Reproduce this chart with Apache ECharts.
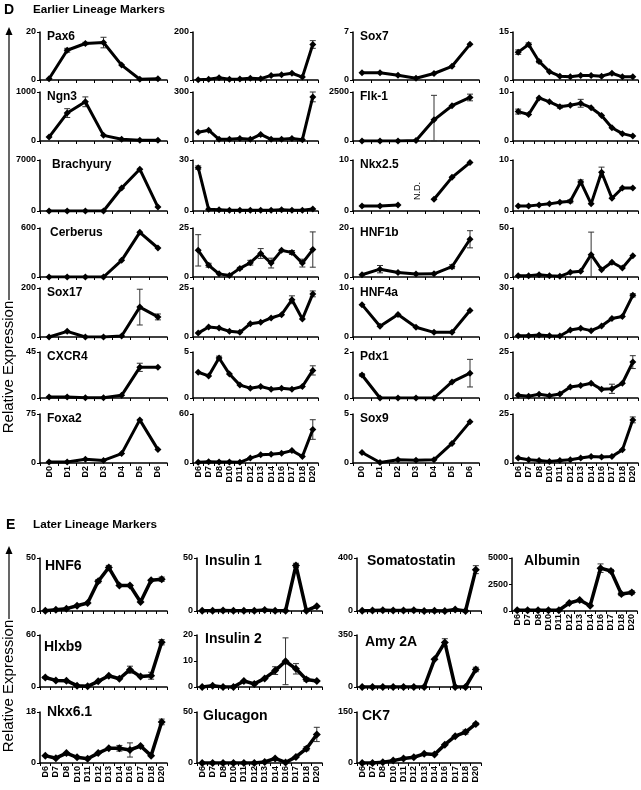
<!DOCTYPE html>
<html><head><meta charset="utf-8">
<script src="https://cdn.jsdelivr.net/npm/echarts@6/dist/echarts.min.js"></script>
<style>html,body{margin:0;padding:0;background:#fff}#c{width:641px;height:790px}</style>
</head><body><div id="c"></div>
<script>
const F = "'Liberation Sans', Arial, sans-serif";
const earlyDays = ['D0','D1','D2','D3','D4','D5','D6'];
const lateDays = ['D6','D7','D8','D10','D11','D12','D13','D14','D16','D17','D18','D20'];

// ---- Panel D: Earlier lineage markers ----
const pax6Early = [0.5, 12.4, 15.2, 15.6, 6.2, 0.3, 0.5];
const pax6EarlyErr = [0, 0.8, 0.5, 2.2, 0, 0, 0];
const pax6Late = [1, 3, 9, 3, 4, 7, 5, 19, 22, 28, 12, 148];
const pax6LateErr = [0, 0, 0, 0, 0, 0, 0, 0, 0, 0, 0, 16];
const sox7Early = [1.05, 1.05, 0.7, 0.25, 0.95, 2.0, 5.2];
const sox7Late = [8.7, 11.1, 5.8, 2.6, 1.2, 1.0, 1.4, 1.4, 1.2, 2.1, 1.0, 1.0];
const sox7LateErr = [0.7, 0.5, 0.4, 0, 0, 0, 0, 0, 0, 0, 0, 0];

const ngn3Early = [80, 570, 800, 115, 35, 15, 15];
const ngn3EarlyErr = [0, 90, 100, 0, 0, 0, 0];
const ngn3Late = [54, 66, 10, 10, 16, 10, 40, 10, 10, 16, 8, 270];
const ngn3LateErr = [0, 0, 0, 0, 0, 0, 0, 0, 0, 0, 0, 30];
const flk1Early = [0, 0, 0, 30, 1080, 1800, 2220];
const flk1EarlyErr = [0, 0, 0, 0, 1250, 0, 170];
const flk1Late = [6.0, 5.4, 8.8, 8.0, 7.0, 7.3, 7.7, 6.8, 5.2, 2.7, 1.5, 1.0];
const flk1LateErr = [0.5, 0, 0, 0, 0.3, 0, 0.8, 0, 0, 0, 0, 0];

const brachEarly = [0, 0, 0, 0, 3160, 5740, 540];
const brachLate = [25.5, 1, 0.8, 0.5, 0.5, 0.5, 0.5, 0.5, 0.8, 0.5, 0.5, 1.2];
const brachLateErr = [1, 0, 0, 0, 0, 0, 0, 0, 0, 0, 0, 0];
const nkx25Early = [1.0, 1.0, 1.2, null, 2.3, 6.6, 9.5];
const nkx25Late = [1.0, 1.0, 1.2, 1.4, 1.7, 1.9, 5.7, 1.4, 7.6, 2.5, 4.5, 4.5];
const nkx25LateErr = [0, 0, 0, 0, 0, 0.3, 0.4, 0, 1.0, 0, 0, 0];

const cerbEarly = [0, 0, 0, 0, 204, 547, 355];
const cerbLate = [13.6, 6.0, 1.6, 0.8, 4.4, 7.3, 12, 7.1, 13.6, 12.5, 7.1, 14];
const cerbLateErr = [8, 1, 0, 0, 0.5, 1.2, 2.5, 2.5, 0, 1, 2, 9];
const hnf1bEarly = [0.9, 3.2, 1.8, 1.2, 1.3, 4.2, 15.4];
const hnf1bEarlyErr = [0, 1.5, 0, 0, 0, 0.8, 3.5];
const hnf1bLate = [1.4, 1.4, 2.4, 1.4, 0.7, 4.8, 5.8, 22.8, 7.5, 15, 9.2, 21.8];
const hnf1bLateErr = [0, 0, 0, 0, 0, 0, 0, 23, 0, 0, 0, 0];

const sox17Early = [0, 23, 0, 0, 4, 122, 82];
const sox17EarlyErr = [0, 0, 0, 0, 0, 73, 12];
const sox17Late = [2.0, 5.1, 4.6, 2.9, 2.4, 6.8, 7.5, 9.7, 11.4, 19, 9.2, 22];
const sox17LateErr = [0, 0, 0, 0, 0, 0, 0, 0, 0, 2, 0, 1.5];
const hnf4aEarly = [6.6, 2.2, 4.6, 2.0, 0.95, 0.95, 5.4];
const hnf4aLate = [0.8, 0.8, 1.2, 0.8, 0.6, 4.3, 5.3, 3.9, 6.7, 11.3, 12.6, 25.5];
const hnf4aLateErr = [0, 0, 0, 0, 0, 0, 0, 0, 0, 0, 0, 1];

const cxcr4Early = [1, 1, 0.2, 0.3, 2.6, 30, 30];
const cxcr4EarlyErr = [0, 0, 0, 0, 0, 4, 0];
const cxcr4Late = [2.8, 2.4, 4.35, 2.6, 1.4, 1.07, 1.25, 0.96, 1.07, 0.96, 1.25, 3.0];
const cxcr4LateErr = [0, 0, 0.2, 0, 0, 0, 0, 0, 0, 0, 0, 0.5];
const pdx1Early = [1.0, 0, 0, 0, 0, 0.7, 1.08];
const pdx1EarlyErr = [0.05, 0, 0, 0, 0, 0, 0.6];
const pdx1Late = [1.5, 1.0, 2.0, 1.2, 2.2, 6.0, 6.8, 8.0, 4.7, 5.0, 8.0, 19.5];
const pdx1LateErr = [0, 0, 0, 0, 0, 0, 0, 0, 0, 2.5, 0, 3.5];

const foxa2Early = [1.5, 1.5, 5.6, 4, 14.4, 66, 20.5];
const foxa2Late = [0.8, 1.6, 1.2, 1.2, 0.8, 6, 10, 10.8, 12, 15.2, 8, 41];
const foxa2LateErr = [0, 0, 0, 0, 0, 0, 0, 0, 0, 0, 0, 12];
const sox9Early = [1.07, 0.05, 0.33, 0.27, 0.33, 2.0, 4.2];
const sox9Late = [2.5, 1.7, 1.3, 0.8, 1.3, 1.7, 2.5, 3.3, 3.0, 3.3, 6.7, 22];
const sox9LateErr = [0, 0, 0, 0, 0, 0, 0, 0, 0, 0, 0, 1.5];

// ---- Panel E: Later lineage markers ----
const hnf6 = [0.3, 1.2, 2.2, 5, 7.5, 28, 41, 24, 24, 8.5, 29, 30];
const hnf6Err = [0, 0, 0, 0, 0, 1.5, 2, 0, 0, 0, 0, 2];
const insulin1 = [0.3, 0.3, 0.5, 0.3, 0.3, 0.3, 1, 0.3, 0.3, 43, 0.3, 4.5];
const insulin1Err = [0, 0, 0, 0, 0, 0, 0, 0, 0, 2, 0, 0];
const somatostatin = [2, 3, 6, 4, 4, 6, 0, 2, 0, 12, 0, 312];
const somatostatinErr = [0, 0, 0, 0, 0, 0, 0, 0, 0, 0, 0, 30];
const albumin = [70, 70, 70, 70, 70, 750, 1030, 500, 4040, 3770, 1600, 1750];
const albuminErr = [0, 0, 0, 0, 0, 0, 0, 0, 400, 150, 150, 150];
const hlxb9 = [11, 7.6, 7.3, 1.5, 0.8, 6.5, 13, 9.5, 20, 12, 13, 51.6];
const hlxb9Err = [1, 0, 0, 0, 0, 0, 0, 0, 4, 0, 4, 3];
const insulin2 = [0, 0.5, 0, 0, 2.3, 1.2, 3.3, 6.3, 9.9, 7, 2.9, 2.3];
const insulin2Err = [0, 0, 0, 0, 0, 0, 0, 1.5, 9, 2, 0.7, 0];
const amy2a = [0, 0, 0, 0, 0, 0, 0, 186, 300, 0, 0, 118];
const amy2aErr = [0, 0, 0, 0, 0, 0, 0, 0, 25, 0, 0, 15];
const nkx61 = [2.6, 1.7, 3.5, 2.0, 1.5, 3.5, 5.2, 5.2, 4.6, 6.0, 2.6, 14.5];
const nkx61Err = [0, 0, 0, 0, 0, 0, 0, 1, 2.5, 0, 0, 1];
const glucagon = [0, 0, 0, 0, 0, 0, 1, 4.5, 0.5, 6, 14, 28];
const glucagonErr = [0, 0, 0, 0, 0, 0, 0, 0, 0, 0, 2, 7];
const ck7 = [0, 0, 2, 7, 13, 17, 27, 25, 54, 79, 91, 115];
const ck7Err = [0, 0, 0, 0, 0, 0, 0, 0, 0, 0, 6, 3];

// ---- layout ----
const dCols = [{l:40,w:127},{l:193,w:125},{l:353,w:126},{l:513,w:125}];
const dRows = [[32,80],[92,141],[160,211],[228,277],[288,337],[352,398],[414,463]];
const eCols = [{l:40,w:127},{l:197,w:125},{l:357,w:124},{l:512,w:125}];
const eRows = [[558,611],[635,687],[712,763]];

const dPanels = [
  [0,0,'Pax6',pax6Early,pax6EarlyErr,20],[0,1,null,pax6Late,pax6LateErr,200],
  [0,2,'Sox7',sox7Early,null,7],[0,3,null,sox7Late,sox7LateErr,15],
  [1,0,'Ngn3',ngn3Early,ngn3EarlyErr,1000],[1,1,null,ngn3Late,ngn3LateErr,300],
  [1,2,'Flk-1',flk1Early,flk1EarlyErr,2500],[1,3,null,flk1Late,flk1LateErr,10],
  [2,0,'Brachyury',brachEarly,null,7000],[2,1,null,brachLate,brachLateErr,30],
  [2,2,'Nkx2.5',nkx25Early,null,10],[2,3,null,nkx25Late,nkx25LateErr,10],
  [3,0,'Cerberus',cerbEarly,null,600],[3,1,null,cerbLate,cerbLateErr,25],
  [3,2,'HNF1b',hnf1bEarly,hnf1bEarlyErr,20],[3,3,null,hnf1bLate,hnf1bLateErr,50],
  [4,0,'Sox17',sox17Early,sox17EarlyErr,200],[4,1,null,sox17Late,sox17LateErr,25],
  [4,2,'HNF4a',hnf4aEarly,null,10],[4,3,null,hnf4aLate,hnf4aLateErr,30],
  [5,0,'CXCR4',cxcr4Early,cxcr4EarlyErr,45],[5,1,null,cxcr4Late,cxcr4LateErr,5],
  [5,2,'Pdx1',pdx1Early,pdx1EarlyErr,2],[5,3,null,pdx1Late,pdx1LateErr,25],
  [6,0,'Foxa2',foxa2Early,null,75],[6,1,null,foxa2Late,foxa2LateErr,60],
  [6,2,'Sox9',sox9Early,null,5],[6,3,null,sox9Late,sox9LateErr,25]
];
const nameOffsetD = {'Brachyury':12,'Cerberus':10};

const ePanels = [
  [0,0,'HNF6',hnf6,hnf6Err,50,50,false],[0,1,'Insulin 1',insulin1,insulin1Err,50,50,false],
  [0,2,'Somatostatin',somatostatin,somatostatinErr,400,400,false],[0,3,'Albumin',albumin,albuminErr,5000,2500,true],
  [1,0,'Hlxb9',hlxb9,hlxb9Err,60,60,false],[1,1,'Insulin 2',insulin2,insulin2Err,20,10,false],
  [1,2,'Amy 2A',amy2a,amy2aErr,350,350,false],
  [2,0,'Nkx6.1',nkx61,nkx61Err,18,18,true],[2,1,'Glucagon',glucagon,glucagonErr,50,50,true],
  [2,2,'CK7',ck7,ck7Err,150,150,true]
];
const eNamePos = {'HNF6':[45,559],'Insulin 1':[205,554],'Somatostatin':[367,554],'Albumin':[524,554],
  'Hlxb9':[44,640],'Insulin 2':[205,632],'Amy 2A':[365,635],'Nkx6.1':[47,705],'Glucagon':[203,709],'CK7':[362,709]};

const opt = {animation:false, backgroundColor:'#fff', grid:[], xAxis:[], yAxis:[], series:[], title:[], graphic:[]};

function errSeries(g, vals, errs, lw) {
  const d = [];
  if (errs) vals.forEach((v,i)=>{ if (v!=null && errs[i]) d.push([i, Math.max(0, v-errs[i]), v+errs[i]]); });
  return {type:'custom', xAxisIndex:g, yAxisIndex:g, data:d, silent:true, z:2, clip:false,
    encode:{x:0, y:[1,2]},
    renderItem(params, api){
      const x = api.value(0);
      const lo = api.coord([x, api.value(1)]), hi = api.coord([x, api.value(2)]);
      const w = 3, st = {stroke:'#333', lineWidth:lw};
      return {type:'group', children:[
        {type:'line', shape:{x1:lo[0],y1:lo[1],x2:hi[0],y2:hi[1]}, style:st},
        {type:'line', shape:{x1:hi[0]-w,y1:hi[1],x2:hi[0]+w,y2:hi[1]}, style:st},
        {type:'line', shape:{x1:lo[0]-w,y1:lo[1],x2:lo[0]+w,y2:lo[1]}, style:st}
      ]};
    }};
}

function addPanel(left, top, width, height, cats, vals, errs, max, interval, showX, lineW, symSize) {
  const g = opt.grid.length;
  opt.grid.push({left, top, width, height, containLabel:false});
  opt.xAxis.push({type:'category', gridIndex:g, data:cats, boundaryGap:true,
    axisLine:{show:true, lineStyle:{color:'#000', width:1.5}},
    axisTick:{show:true, length:3, interval:0, lineStyle:{color:'#000', width:1}},
    axisLabel:{show:showX, rotate:90, interval:0, fontSize:9, fontWeight:'bold', color:'#000', fontFamily:F, margin:3},
    splitLine:{show:false}});
  opt.yAxis.push({type:'value', gridIndex:g, min:0, max, interval,
    axisLine:{show:true, lineStyle:{color:'#000', width:1.5}},
    axisTick:{show:true, length:3, lineStyle:{color:'#000', width:1}},
    axisLabel:{show:true, fontSize:9, fontWeight:'bold', color:'#000', fontFamily:F, margin:4,
      formatter:(v)=>String(v)},
    splitLine:{show:false}});
  opt.series.push({type:'line', xAxisIndex:g, yAxisIndex:g, data:vals, symbol:'diamond', symbolSize:symSize,
    showSymbol:true, showAllSymbol:true, connectNulls:false, silent:true, z:3,
    lineStyle:{color:'#000', width:lineW}, itemStyle:{color:'#000'}});
  opt.series.push(errSeries(g, vals, errs, 1));
}

dPanels.forEach(([r,c,name,vals,errs,max])=>{
  const col = dCols[c], row = dRows[r];
  const cats = (c % 2 === 0) ? earlyDays : lateDays;
  addPanel(col.l, row[0], col.w, row[1]-row[0], cats, vals, errs, max, max, r === 6, 3, 7);
  if (name) {
    const off = nameOffsetD[name] || 7;
    opt.title.push({text:name, left:col.l+off, top:row[0]-1, padding:0,
      textStyle:{fontSize:12, fontWeight:'bold', color:'#000', fontFamily:F}});
  }
});
ePanels.forEach(([r,c,name,vals,errs,max,interval,showX])=>{
  const col = eCols[c], row = eRows[r];
  addPanel(col.l, row[0], col.w, row[1]-row[0], lateDays, vals, errs, max, interval, showX, 3.5, 8);
  const p = eNamePos[name];
  opt.title.push({text:name, left:p[0], top:p[1], padding:0,
    textStyle:{fontSize:14, fontWeight:'bold', color:'#000', fontFamily:F}});
});

// headings, arrows, axis name
function arrow(x, yTip, yEnd) {
  return [
    {type:'line', shape:{x1:x, y1:yTip+5, x2:x, y2:yEnd}, style:{stroke:'#000', lineWidth:1.2}},
    {type:'polygon', shape:{points:[[x, yTip],[x-3.5, yTip+8],[x+3.5, yTip+8]]}, style:{fill:'#000'}}
  ];
}
opt.graphic = [
  {type:'text', left:4, top:3, style:{text:'D', font:"bold 14px "+F, fill:'#000'}},
  {type:'text', left:33, top:4, style:{text:'Earlier Lineage Markers', font:"bold 11.7px "+F, fill:'#000'}},
  {type:'text', left:6, top:518, style:{text:'E', font:"bold 14px "+F, fill:'#000'}},
  {type:'text', left:33, top:519, style:{text:'Later Lineage Markers', font:"bold 11.7px "+F, fill:'#000'}},
  ...arrow(9, 27, 300),
  ...arrow(9, 546, 619),
  {type:'text', x:9, y:367, rotation:Math.PI/2, style:{text:'Relative Expression', font:"15px "+F, fill:'#000', align:'center', verticalAlign:'middle'}},
  {type:'text', x:9, y:686, rotation:Math.PI/2, style:{text:'Relative Expression', font:"15px "+F, fill:'#000', align:'center', verticalAlign:'middle'}},
  {type:'text', x:418, y:191, rotation:Math.PI/2, style:{text:'N.D.', font:"9px "+F, fill:'#000', align:'center', verticalAlign:'middle'}}
];

const chart = echarts.init(document.getElementById('c'), null, {renderer:'canvas'});
chart.setOption(opt);
</script></body></html>
